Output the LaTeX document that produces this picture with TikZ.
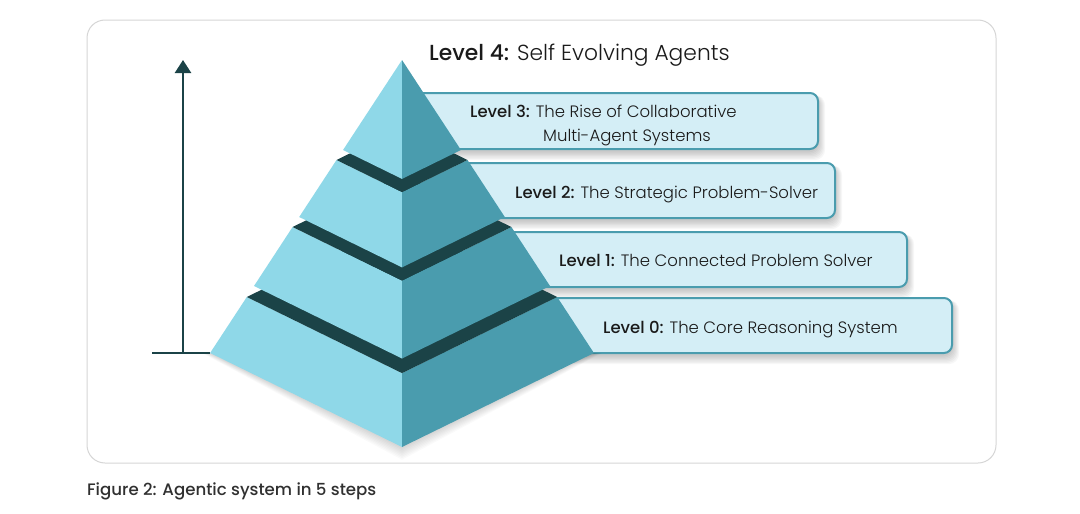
\documentclass[tikz,border=0pt]{standalone}
\usepackage{fontspec}
\setmainfont{Poppins}[UprightFont={* Light},BoldFont={* Medium}]
\newfontfamily\capfont{Poppins}[UprightFont={* Medium}]
\usetikzlibrary{arrows.meta}
\definecolor{lightface}{HTML}{8FD8E8}
\definecolor{darkface}{HTML}{4A9CAE}
\definecolor{bandc}{HTML}{1B4347}
\definecolor{boxfill}{HTML}{D4EEF6}
\definecolor{boxline}{HTML}{4A9CAE}
\definecolor{txt}{HTML}{1A1A1A}
\definecolor{captxt}{HTML}{303030}
\definecolor{frameline}{HTML}{D6D6D6}
\begin{document}
\begin{tikzpicture}[x=1pt,y=-1pt,
  levelbox/.style={draw=boxline, fill=boxfill, line width=2pt, rounded corners=8pt},
  leftface/.style={fill=lightface},
  rightface/.style={fill=darkface},
  topface/.style={fill=bandc},
  lbl/.style={anchor=base west, inner sep=0pt, text=txt, font=\fontsize{16.5}{20}\selectfont},
  lblbig/.style={anchor=base west, inner sep=0pt, text=txt, font=\fontsize{21.8}{25}\selectfont},
  capstyle/.style={anchor=base west, inner sep=0pt, text=captxt, font=\fontsize{16.6}{19}\capfont},
  axisline/.style={draw=bandc, line width=2.5pt}]
\useasboundingbox (0,0) rectangle (1080,514);
\fill[white] (0,0) rectangle (1080,514);
% frame
\draw[frameline, line width=1pt, rounded corners=18pt] (87,20) rectangle (996,463);

% box shadows
\foreach \xa/\ya/\xb/\yb in {402/298/952/353, 402/232/907/287, 402/163/835/218, 402/93/818/149}{
  \foreach \i in {1,...,7}{
    \fill[black, opacity=0.03, rounded corners=10pt] (\xa-\i, \ya+2) rectangle (\xb+\i, \yb+2+1.3*\i);
  }
}
% boxes (behind the pyramid)
\draw[levelbox] (402,298) rectangle (952,353);
\draw[levelbox] (402,232) rectangle (907,287);
\draw[levelbox] (402,163) rectangle (835,218);
\draw[levelbox] (402,93) rectangle (818,149);

% pyramid shadow
\foreach \i in {1,...,8}{
  \fill[black, opacity=0.02] (210-\i,353) -- (402,447+1.6*\i) -- (594+\i,353) -- cycle;
}

% piece 4 (bottom)
\fill[leftface]  (246.8,297) -- (402,373.1) -- (402,447) -- (210.1,353) -- cycle;
\fill[rightface] (557.2,297) -- (402,373.1) -- (402,447) -- (593.9,353) -- cycle;
\fill[topface]   (246.8,297) -- (402,373.1) -- (557.2,297) -- (402,220.9) -- cycle;
% piece 3
\fill[leftface]  (292.6,227) -- (402,280.6) -- (402,358.5) -- (254,286) -- cycle;
\fill[rightface] (511.4,227) -- (402,280.6) -- (402,358.5) -- (550,286) -- cycle;
\fill[topface]   (292.6,227) -- (402,280.6) -- (511.4,227) -- (402,173.4) -- cycle;
% piece 2
\fill[leftface]  (336.5,160) -- (402,192.1) -- (402,267.4) -- (299.2,217) -- cycle;
\fill[rightface] (467.5,160) -- (402,192.1) -- (402,267.4) -- (504.8,217) -- cycle;
\fill[topface]   (336.5,160) -- (402,192.1) -- (467.5,160) -- (402,127.9) -- cycle;
% piece 1 (apex)
\fill[leftface]  (402,60) -- (402,178.9) -- (343.05,150) -- cycle;
\fill[rightface] (402,60) -- (402,178.9) -- (460.95,150) -- cycle;

% axis arrow
\coordinate (abase) at (183,353);
\coordinate (atop) at (183,60);
\coordinate (hleft) at (152,353);
\coordinate (hright) at (210,353);
\draw[axisline, -{Triangle[width=16pt,length=13pt]}] (abase) -- (atop);
\draw[axisline] (hleft) -- (hright);

% labels
\node[lblbig] (t4) at (429,60) {\textbf{Level 4:} Self Evolving Agents};
\node[lbl] (t3a) at (470,117) {\textbf{Level 3:} The Rise of Collaborative};
\node[lbl] (t3b) at (543,141) {Multi-Agent Systems};
\node[lbl] (t2) at (515,198) {\textbf{Level 2:} The Strategic Problem-Solver};
\node[lbl] (t1) at (559,266) {\textbf{Level 1:} The Connected Problem Solver};
\node[lbl] (t0) at (603,333) {\textbf{Level 0:} The Core Reasoning System};

% caption
\node[capstyle] (cap) at (87,495) {Figure 2: Agentic system in 5 steps};
\end{tikzpicture}
\end{document}
